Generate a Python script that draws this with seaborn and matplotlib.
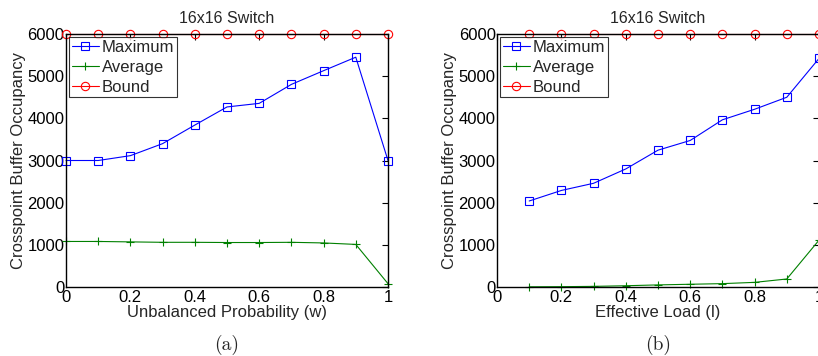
import matplotlib
matplotlib.use("Agg")
import matplotlib.pyplot as plt
import seaborn as sns

# (a) unbalanced traffic
prob_w = [0, 0.1, 0.2, 0.3, 0.4, 0.5, 0.6, 0.7, 0.8, 0.9, 1.0]
max_a = [3000, 3000, 3115, 3400, 3840, 4270, 4355, 4805, 5130, 5450, 3000]
avg_a = [1080, 1080, 1070, 1060, 1060, 1055, 1055, 1060, 1045, 1010, 80]
bound_a = [6000] * len(prob_w)

# (b) effective load
load_l = [0.1, 0.2, 0.3, 0.4, 0.5, 0.6, 0.7, 0.8, 0.9, 1.0]
max_b = [2040, 2290, 2460, 2800, 3245, 3475, 3965, 4215, 4500, 5420]
avg_b = [5, 8, 15, 30, 50, 65, 80, 110, 190, 1110]
bound_b = [6000] * len(load_l)

xticks = [0, 0.2, 0.4, 0.6, 0.8, 1.0]
xticklabels = ["0", "0.2", "0.4", "0.6", "0.8", "1"]
yticks = [0, 1000, 2000, 3000, 4000, 5000, 6000]

sns.set_style("white")
plt.rcParams["font.family"] = ["Liberation Sans", "DejaVu Sans"]

fig = plt.figure(figsize=(8.18, 3.56), dpi=100)
ax_a = fig.add_axes([0.0807, 0.1938, 0.3936, 0.7107])
ax_b = fig.add_axes([0.6076, 0.1938, 0.3936, 0.7107])

FS = 12


def draw(ax, x, mx, av, bd, xlabel, caption):
    common = dict(ax=ax, linewidth=0.8, markersize=6, markeredgewidth=0.8,
                  clip_on=False)
    sns.lineplot(x=x, y=mx, color="blue", marker="s", markerfacecolor="none",
                 markeredgecolor="blue", label="Maximum", **common)
    sns.lineplot(x=x, y=av, color="#008000", marker="+", markeredgecolor="#008000",
                 label="Average", **common)
    sns.lineplot(x=x, y=bd, color="red", marker="o", markerfacecolor="none",
                 markeredgecolor="red", label="Bound", **common)
    ax.set_xlim(0, 1)
    ax.set_ylim(0, 6000)
    ax.set_xticks(xticks)
    ax.set_xticklabels(xticklabels)
    ax.set_yticks(yticks)
    ax.tick_params(direction="in", length=4, width=0.8, top=True, right=True,
                   labelsize=FS, pad=1, colors="black")
    ax.tick_params(axis="x", pad=2.5)
    for s in ax.spines.values():
        s.set_color("black")
        s.set_linewidth(1.0)
    ax.set_xlabel(xlabel, fontsize=FS, labelpad=0)
    ax.set_ylabel("Crosspoint Buffer Occupancy", fontsize=FS, labelpad=1)
    ax.set_title("16x16 Switch", fontsize=FS - 0.5, pad=8)
    leg = ax.legend(loc="upper left", fontsize=FS, frameon=True, fancybox=False,
                    borderpad=0.15, labelspacing=0.3, handlelength=1.6,
                    handletextpad=0.2, borderaxespad=0.2)
    leg.get_frame().set_edgecolor("black")
    leg.get_frame().set_linewidth(0.8)
    ax.text(0.5, -0.229, caption, transform=ax.transAxes, ha="center",
            va="center", fontsize=14, family="cmr10")


draw(ax_a, prob_w, max_a, avg_a, bound_a, "Unbalanced Probability (w)", "(a)")
draw(ax_b, load_l, max_b, avg_b, bound_b, "Effective Load (l)", "(b)")

fig.savefig("out.png", dpi=100)
